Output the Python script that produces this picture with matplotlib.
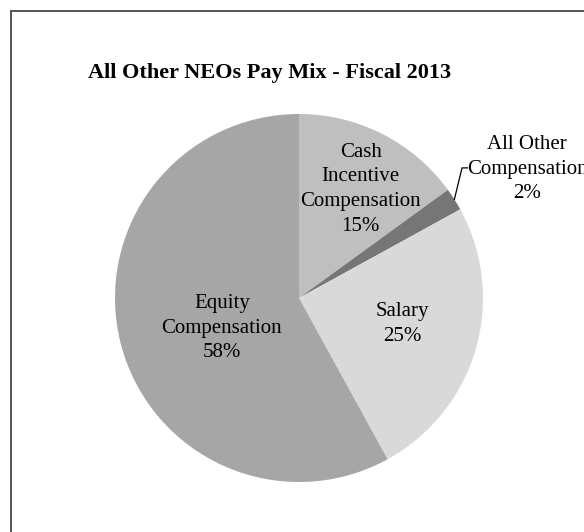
import numpy as np
import matplotlib
matplotlib.use("Agg")
import matplotlib.pyplot as plt
from matplotlib.patches import Rectangle

# Pay mix shares, clockwise from 12 o'clock
categories = ["Cash\nIncentive\nCompensation", "All Other\nCompensation", "Salary", "Equity\nCompensation"]
shares = [15, 2, 25, 58]
colors = ["#bfbfbf", "#767676", "#d9d9d9", "#a6a6a6"]
# inside-label placement: fraction of radius and angular nudge (deg)
label_radius = [0.68, None, 0.58, 0.45]
label_nudge = [-2.5, 0.0, 2.0, 7.0]
title = "All Other NEOs Pay Mix - Fiscal 2013"

plt.rcParams["font.family"] = ["Liberation Serif", "DejaVu Serif"]

W, H = 584, 532
fig = plt.figure(figsize=(W / 100, H / 100), dpi=100)

# chart frame (top and left edges visible)
fig.patches.append(Rectangle((11 / W, -0.2), 1.5, 1 - 11 / H + 0.2,
                             transform=fig.transFigure, fill=False,
                             edgecolor="#555555", linewidth=1.4))

fig.text(270 / W, 1 - 78 / H, title, ha="center", va="baseline",
         fontsize=16, fontweight="bold")

cx, cy, R = 299, 298, 184
ax = fig.add_axes([(cx - R) / W, (H - cy - R) / H, 2 * R / W, 2 * R / H])
wedges, _ = ax.pie(shares, colors=colors, startangle=90, counterclock=False,
                   radius=1.0, wedgeprops=dict(linewidth=0))
ax.set_xlim(-1, 1)
ax.set_ylim(-1, 1)
ax.axis("off")

LS = 1.4
for w, name, val, rr, nd in zip(wedges, categories, shares, label_radius, label_nudge):
    mid = np.deg2rad((w.theta1 + w.theta2) / 2)
    text = f"{name}\n{val}%"
    if rr is None:
        # outside label with leader line
        ex, ey = np.cos(mid), np.sin(mid)
        elbow = (0.886, 0.707)
        ax.plot([ex, elbow[0], elbow[0] + 0.03], [ey, elbow[1], elbow[1]],
                color="black", linewidth=0.9, clip_on=False)
        ax.text(1.239, 0.70, text, ha="center", va="center", fontsize=15,
                linespacing=LS, clip_on=False)
    else:
        a = mid + np.deg2rad(nd)
        ax.text(rr * np.cos(a), rr * np.sin(a), text, ha="center",
                va="center", fontsize=15, linespacing=LS)

fig.savefig("out.png", dpi=100)
